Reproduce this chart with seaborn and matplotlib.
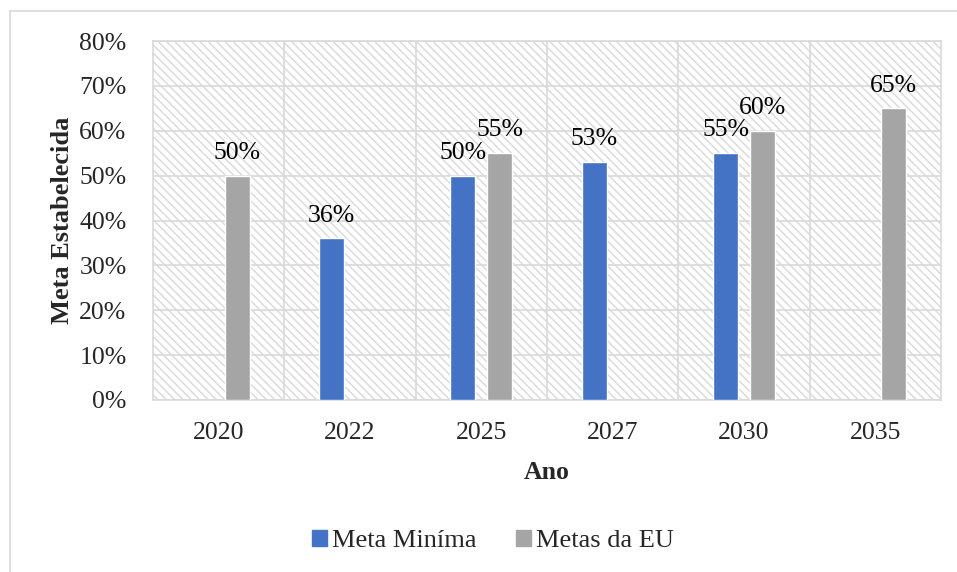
import matplotlib
matplotlib.use("Agg")
import matplotlib.pyplot as plt
from matplotlib.lines import Line2D
from matplotlib.patches import Rectangle
from matplotlib.font_manager import FontProperties
import seaborn as sns
import pandas as pd
import numpy as np

years = ["2020", "2022", "2025", "2027", "2030", "2035"]
meta_minima = [np.nan, 36, 50, 53, 55, np.nan]
metas_eu = [50, np.nan, 55, np.nan, 60, 65]
series_names = ["Meta Miníma", "Metas da EU"]
colors = ["#4472C4", "#A5A5A5"]
yticks = [0, 10, 20, 30, 40, 50, 60, 70, 80]

df = pd.DataFrame({
    "Ano": years * 2,
    "Valor": meta_minima + metas_eu,
    "Serie": [series_names[0]] * len(years) + [series_names[1]] * len(years),
})

FS = 18.5
sns.set_theme(style="white")
plt.rcParams["font.family"] = ["Liberation Serif", "DejaVu Serif"]
plt.rcParams["hatch.color"] = "#D9D9D9"
plt.rcParams["hatch.linewidth"] = 1.0

fig = plt.figure(figsize=(9.57, 5.72), dpi=100)
ax = fig.add_axes([153 / 957, 1 - 400 / 572, (941 - 153) / 957, (400 - 41) / 572])

ax.patch.set_facecolor("white")
ax.patch.set_hatch("\\\\\\\\")
ax.patch.set_edgecolor("#D9D9D9")

sns.barplot(data=df, x="Ano", y="Valor", hue="Serie", order=years,
            hue_order=series_names, palette=colors, width=0.56, gap=0.32,
            saturation=1, ax=ax, legend=False, zorder=3)

for cont in ax.containers:
    labels = [("" if np.isnan(v) else f"{v:.0f}%") for v in cont.datavalues]
    ax.bar_label(cont, labels=labels, padding=8.5, fontsize=FS, color="black")

ax.set_ylim(0, 80)
ax.set_xlim(-0.5, len(years) - 0.5)
ax.set_yticks(yticks)
ax.set_yticklabels([f"{t}%" for t in yticks], fontsize=FS)
ax.tick_params(axis="x", labelsize=FS, length=0, pad=16)
ax.tick_params(axis="y", length=0, pad=19)

ax.grid(axis="y", color="#D9D9D9", linewidth=1.2, zorder=0)
for xb in np.arange(0.5, len(years) - 0.5, 1):
    ax.axvline(xb, color="#D9D9D9", linewidth=1.2, zorder=1)
ax.set_axisbelow(True)
for s in ax.spines.values():
    s.set_color("#D9D9D9")
    s.set_linewidth(1.2)

ax.set_xlabel("Ano", fontsize=FS, fontweight="bold", labelpad=12)
ax.set_ylabel("Meta Estabelecida", fontsize=19, fontweight="bold", labelpad=4)

handles = [Rectangle((0, 0), 1, 1, color=c) for c in colors]
leg = ax.legend(handles, series_names, loc="center",
                bbox_to_anchor=(493 / 957, 1 - 541 / 572), bbox_transform=fig.transFigure,
                ncol=2, frameon=False,
                prop=FontProperties(family="Liberation Serif", size=19),
                handlelength=0.55, handleheight=0.55, handletextpad=0.2, columnspacing=1.5)

fig.add_artist(Line2D([10 / 957, 1], [1 - 11 / 572, 1 - 11 / 572], color="#D9D9D9",
                      linewidth=1.2, transform=fig.transFigure))
fig.add_artist(Line2D([10 / 957, 10 / 957], [0, 1 - 11 / 572], color="#D9D9D9",
                      linewidth=1.2, transform=fig.transFigure))

fig.savefig("out.png", dpi=100)
